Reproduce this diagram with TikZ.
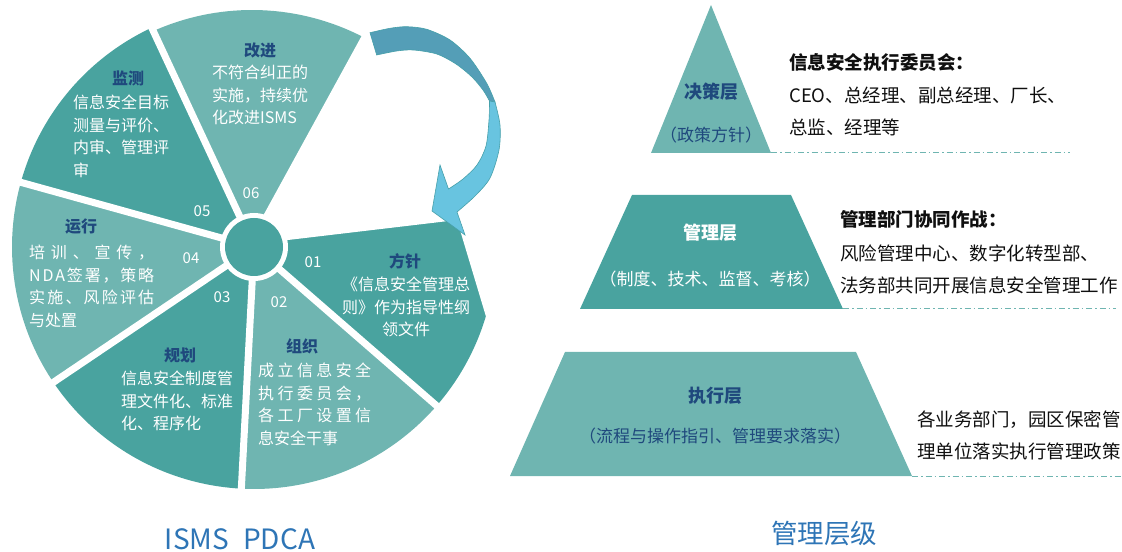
\documentclass[tikz,border=0pt]{standalone}
\usepackage{fontspec}
\setmainfont{Noto Sans CJK SC}
\definecolor{tdark}{RGB}{73,163,159}
\definecolor{tlight}{RGB}{111,181,177}
\definecolor{navy}{RGB}{31,73,125}
\definecolor{capblue}{RGB}{46,117,182}
\definecolor{arrdark}{RGB}{84,158,183}
\definecolor{arrlight}{RGB}{104,196,224}
\definecolor{arrline}{RGB}{70,160,170}
\definecolor{rtext}{RGB}{15,15,15}
\newcommand{\spreadline}[2]{\makebox[#1][s]{#2}}
\tikzset{
  sectitle/.style={font=\fontsize{16bp}{20bp}\selectfont\bfseries, text=navy, inner sep=0pt},
  secbody/.style={font=\fontsize{16bp}{22.5bp}\selectfont, text=white, align=left, anchor=north west, inner sep=0pt},
  secnum/.style={font=\fontsize{15bp}{18bp}\selectfont, text=white, inner sep=0pt},
  rtitle/.style={font=\fontsize{18.5bp}{22bp}\selectfont\bfseries, text=rtext, anchor=west, inner sep=0pt},
  rbody/.style={font=\fontsize{18.5bp}{32bp}\selectfont, text=rtext, align=left, anchor=north west, inner sep=0pt},
  laytitle/.style={font=\fontsize{18bp}{22bp}\selectfont\bfseries, inner sep=0pt},
  laysub/.style={font=\fontsize{17bp}{22bp}\selectfont, inner sep=0pt},
  captext/.style={text=capblue, inner sep=0pt},
  gapline/.style={white, line width=7bp},
  hubc/.style={circle, fill=tdark, minimum size=58bp, inner sep=0pt},
  dashdotline/.style={tlight, line width=1bp, dash pattern=on 6bp off 3bp on 1.5bp off 3bp}
}
\begin{document}
\begin{tikzpicture}[x=1bp,y=-1bp]
\useasboundingbox (0,0) rectangle (1122,552);
% ---------- pie sectors ----------
\fill[tlight] (254,247) -- plot[domain=55:116,samples=40] ({252+242*cos(\x)},{252-242*sin(\x)}) -- cycle;
\fill[tdark] (254,247) -- plot[domain=115:164.5,samples=40] ({254+242*cos(\x)},{247-242*sin(\x)}) -- cycle;
\fill[tlight] (254,247) -- plot[domain=164.5:214,samples=40] ({254+242*cos(\x)},{247-242*sin(\x)}) -- cycle;
\fill[tdark] (254,247) -- plot[domain=214:267,samples=40] ({254+242*cos(\x)},{247-242*sin(\x)}) -- cycle;
\fill[tlight] (254,247) -- plot[domain=267:319,samples=40] ({254+242*cos(\x)},{247-242*sin(\x)}) -- cycle;
\fill[tdark] (254,247) -- plot[domain=319:374,samples=40] ({254+242*cos(\x)},{247-242*sin(\x)}) -- cycle;
\foreach \a in {115,164.5,214,267,319}
  \draw[gapline] (254,247) -- ({254+262*cos(\a)},{247-262*sin(\a)});
% empty slot
\fill[white] (246,247) -- (406,-45) -- (530,-45) -- (530,360) -- (499,360) -- (457,220) -- (288,240) -- (254,244) -- cycle;
% hub
\fill[white] (254,247) circle[radius=34];
\node[hubc] (hub) at (254,247) {};
% ---------- curved arrow ----------
\fill[arrdark, draw=arrline, line width=0.6bp]
  plot[smooth] coordinates {(370,32.7) (390,28.3) (406.7,26.7) (426.7,29.3) (450,40) (470,58.3) (486.7,83.3) (495,102)}
  -- plot[smooth] coordinates {(489.5,101) (483,90) (472,77) (456,64) (436.7,54) (413.3,50) (396.7,51) (376.7,55)}
  -- cycle;
\fill[arrlight, draw=arrline, line width=0.6bp]
  plot[smooth] coordinates {(489.5,101) (489,120) (486,146) (477,165) (463,179) (448.5,189)}
  -- (440,165) -- (432,211) -- (465,235)
  -- plot[smooth] coordinates {(457,212) (475,196) (490,178) (499,150) (500,125) (495,102)}
  -- cycle;
% ---------- sector texts ----------
\node[sectitle] (t6) at (260,50) {改进};
\node[secbody] (b6) at (212,65) {不符合纠正的\\实施，持续优\\化改进ISMS};
\node[secnum] (n6) at (251,193) {06};
\node[sectitle] (t5) at (128,78) {监测};
\node[secbody] (b5) at (73,95) {信息安全目标\\测量与评价、\\内审、管理评\\审};
\node[secnum] (n5) at (202,211) {05};
\node[sectitle] (t4) at (81,227) {运行};
\node[secbody] (b4) at (29,245) {\spreadline{125bp}{培\hfill 训\hfill 、\hfill 宣\hfill 传\hfill ，}\\\spreadline{125bp}{N\hfill D\hfill A\hfill 签\hfill 署\hfill ，\hfill 策\hfill 略}\\\spreadline{125bp}{实\hfill 施\hfill 、\hfill 风\hfill 险\hfill 评\hfill 估}\\与处置};
\node[secnum] (n4) at (191,258) {04};
\node[sectitle] (t3) at (180,355) {规划};
\node[secbody] (b3) at (121,371) {信息安全制度管\\理文件化、标准\\化、程序化};
\node[secnum] (n3) at (222,297) {03};
\node[sectitle] (t2) at (302,346) {组织};
\node[secbody] (b2) at (258,363) {\spreadline{113bp}{成\hfill 立\hfill 信\hfill 息\hfill 安\hfill 全}\\\spreadline{113bp}{执\hfill 行\hfill 委\hfill 员\hfill 会\hfill ，}\\\spreadline{113bp}{各\hfill 工\hfill 厂\hfill 设\hfill 置\hfill 信}\\息安全干事};
\node[secnum] (n2) at (279,302) {02};
\node[sectitle] (t1) at (405,261) {方针};
\node[secbody, align=center, anchor=north] (b1) at (406,277) {《信息安全管理总\\则》作为指导性纲\\领文件};
\node[secnum] (n1) at (313,262) {01};
\node[captext, font=\fontsize{28bp}{32bp}\selectfont, anchor=base] (cap1) at (240,549) {ISMS\hspace{14bp}PDCA};
% ---------- pyramid ----------
\fill[tlight] (711,5) -- (771,153) -- (651,153) -- cycle;
\fill[tdark] (632,195) -- (791,195) -- (843,309) -- (580,309) -- cycle;
\fill[tlight] (565,352) -- (856,352) -- (912,476) -- (510,476) -- cycle;
\coordinate (d1a) at (771,153); \coordinate (d1b) at (1070,153);
\coordinate (d2a) at (843,309); \coordinate (d2b) at (1116,309);
\coordinate (d3a) at (912,476); \coordinate (d3b) at (1122,476);
\draw[dashdotline] (d1a) -- (d1b);
\draw[dashdotline] (d2a) -- (d2b);
\draw[dashdotline] (d3a) -- (d3b);
\node[laytitle, text=navy] (l1) at (711,92) {决策层};
\node[laysub, text=navy] (s1) at (711,135) {（政策方针）};
\node[laytitle, text=white] (l2) at (710,233) {管理层};
\node[laysub, text=white] (s2) at (710,279) {（制度、技术、监督、考核）};
\node[laytitle, text=navy] (l3) at (715,396) {执行层};
\node[laysub, text=navy] (s3) at (715,436) {（流程与操作指引、管理要求落实）};
\node[rtitle] (rt1) at (789,62) {信息安全执行委员会：};
\node[rbody] (rb1) at (789,87) {CEO、总经理、副总经理、厂长、\\总监、经理等};
\node[rtitle] (rt2) at (840,219) {管理部门协同作战：};
\node[rbody] (rb2) at (840,245) {风险管理中心、数字化转型部、\\法务部共同开展信息安全管理工作};
\node[rbody] (rb3) at (917,411) {各业务部门，园区保密管\\理单位落实执行管理政策};
\node[captext, font=\fontsize{26.5bp}{30bp}\selectfont] (cap2) at (824,533) {管理层级};
\end{tikzpicture}
\end{document}
